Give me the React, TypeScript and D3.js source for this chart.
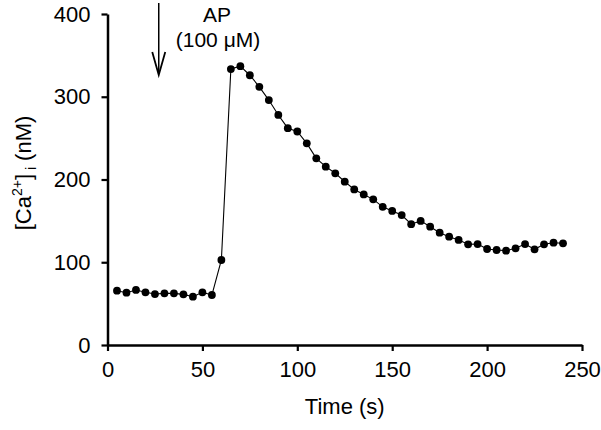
import React, { useEffect, useRef } from "react";
import * as d3 from "d3";

// time (s) and [Ca2+]i (nM)
const times = [5, 10, 15, 20, 25, 30, 35, 40, 45, 50, 55, 60, 65, 70, 75, 80, 85, 90, 95, 100,
  105, 110, 115, 120, 125, 130, 135, 140, 145, 150, 155, 160, 165, 170, 175, 180, 185, 190, 195, 200,
  205, 210, 215, 220, 225, 230, 235, 240];
const calcium = [65.6, 63.2, 66.5, 63.7, 61.6, 62.4, 62.4, 61.2, 58.4, 63.7, 60.4, 102.7, 333.5, 337, 326, 312, 296, 278, 262, 258,
  243.7, 225.6, 215.5, 207.5, 197.4, 188, 182, 176, 167, 162, 157, 146, 150, 143, 135.7, 130.9, 127, 121.7, 122, 116,
  114.8, 114, 116.8, 122, 115.6, 121.7, 123.6, 122.9];
const xTicks = [0, 50, 100, 150, 200, 250];
const yTicks = [0, 100, 200, 300, 400];
const arrowTime = 27;

export default function App() {
  const svgRef = useRef<SVGSVGElement>(null);

  useEffect(() => {
    const width = 601;
    const height = 430;
    const svg = d3.select(svgRef.current)
      .attr("width", width)
      .attr("height", height)
      .style("background", "#ffffff");
    svg.selectAll("*").remove();

    const font = "'Liberation Sans', Arial, sans-serif";
    const x = d3.scaleLinear().domain([0, 250]).range([107.5, 582]);
    const y = d3.scaleLinear().domain([0, 400]).range([345, 14]);

    const data = times.map((t, i) => ({ t, v: calcium[i] }));

    // axes
    const xAxis = svg.append("g")
      .attr("transform", `translate(0, ${y(0)})`)
      .call(d3.axisBottom(x).tickValues(xTicks).tickSize(6).tickPadding(10).tickSizeOuter(0));
    xAxis.select(".domain").attr("stroke", "#000").attr("stroke-width", 2.5);
    xAxis.selectAll(".tick line").attr("stroke-width", 2.2);
    xAxis.selectAll("text")
      .attr("font-family", font)
      .attr("font-size", 22)
      .attr("fill", "#000");

    const yAxis = svg.append("g")
      .attr("transform", `translate(${x(0)}, 0)`)
      .call(d3.axisLeft(y).tickValues(yTicks).tickSize(6).tickPadding(11).tickSizeOuter(0));
    yAxis.select(".domain").attr("stroke", "#000").attr("stroke-width", 2.5);
    yAxis.selectAll(".tick line").attr("stroke-width", 2.2);
    yAxis.selectAll("text")
      .attr("font-family", font)
      .attr("font-size", 22)
      .attr("fill", "#000");

    // axis titles
    svg.append("text")
      .attr("x", (x(0) + x(250)) / 2)
      .attr("y", 414)
      .attr("text-anchor", "middle")
      .attr("font-family", font)
      .attr("font-size", 22)
      .text("Time (s)");

    const yTitle = svg.append("text")
      .attr("transform", `translate(31, 173) rotate(-90)`)
      .attr("text-anchor", "middle")
      .attr("font-family", font)
      .attr("font-size", 22);
    yTitle.append("tspan").text("[Ca");
    yTitle.append("tspan").attr("font-size", 14).attr("dy", -9).text("2+");
    yTitle.append("tspan").attr("dy", 9).text("]");
    yTitle.append("tspan").attr("font-size", 14).attr("dy", 5).text(" i");
    yTitle.append("tspan").attr("dy", -5).text(" (nM)");

    // trace
    const line = d3.line<{ t: number; v: number }>()
      .x(d => x(d.t))
      .y(d => y(d.v));
    svg.append("path")
      .datum(data)
      .attr("d", line)
      .attr("fill", "none")
      .attr("stroke", "#000")
      .attr("stroke-width", 1.1);

    svg.selectAll("dots")
      .data(data)
      .enter()
      .append("circle")
      .attr("cx", d => x(d.t))
      .attr("cy", d => y(d.v))
      .attr("r", 3.9)
      .attr("fill", "#000");

    // AP application arrow
    const ax = x(arrowTime);
    svg.append("line")
      .attr("x1", ax).attr("x2", ax)
      .attr("y1", 3).attr("y2", 74)
      .attr("stroke", "#000")
      .attr("stroke-width", 1.5);
    svg.append("path")
      .attr("d", `M${ax - 6.5},${52} L${ax},${75} L${ax + 6.5},${52}`)
      .attr("fill", "none")
      .attr("stroke", "#000")
      .attr("stroke-width", 1.8);

    svg.append("text")
      .attr("x", 217)
      .attr("y", 22)
      .attr("text-anchor", "middle")
      .attr("font-family", font)
      .attr("font-size", 21)
      .text("AP");
    svg.append("text")
      .attr("x", 218)
      .attr("y", 47)
      .attr("text-anchor", "middle")
      .attr("font-family", font)
      .attr("font-size", 21)
      .text("(100 μM)");
  }, []);

  return (
    <div style={{ position: "absolute", left: 0, top: 0 }}>
      <svg ref={svgRef}></svg>
    </div>
  );
}
